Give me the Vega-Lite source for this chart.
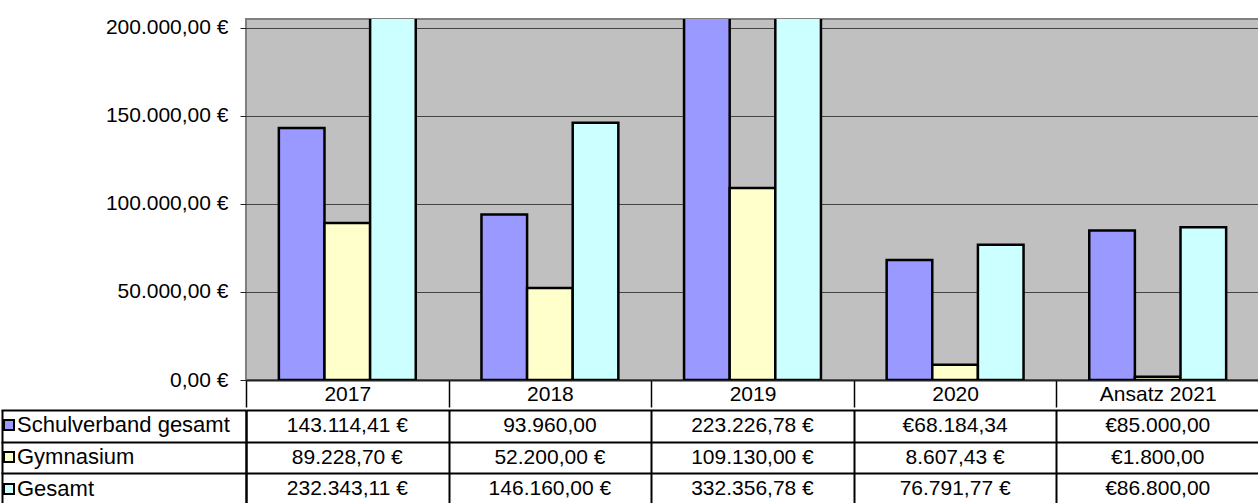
{
  "$schema": "https://vega.github.io/schema/vega-lite/v6.json",
  "padding": {"left": 0, "top": 15, "right": 0, "bottom": 0},
  "spacing": 0,
  "config": {
    "locale": {"number": {"decimal": ",", "thousands": ".", "grouping": [3], "currency": ["", " €"]}},
    "font": "Liberation Sans",
    "view": {"stroke": null},
    "axis": {"labelFont": "Liberation Sans", "labelFontSize": 21, "labelColor": "black"},
    "legend": {"labelFont": "Liberation Sans", "labelFontSize": 22, "labelColor": "black"}
  },
  "data": {"values": [
    {"year": "2017", "series": "Schulverband gesamt", "value": 143114.41, "label": "143.114,41 €"},
    {"year": "2017", "series": "Gymnasium", "value": 89228.70, "label": "89.228,70 €"},
    {"year": "2017", "series": "Gesamt", "value": 232343.11, "label": "232.343,11 €"},
    {"year": "2018", "series": "Schulverband gesamt", "value": 93960.00, "label": "93.960,00"},
    {"year": "2018", "series": "Gymnasium", "value": 52200.00, "label": "52.200,00 €"},
    {"year": "2018", "series": "Gesamt", "value": 146160.00, "label": "146.160,00 €"},
    {"year": "2019", "series": "Schulverband gesamt", "value": 223226.78, "label": "223.226,78 €"},
    {"year": "2019", "series": "Gymnasium", "value": 109130.00, "label": "109.130,00 €"},
    {"year": "2019", "series": "Gesamt", "value": 332356.78, "label": "332.356,78 €"},
    {"year": "2020", "series": "Schulverband gesamt", "value": 68184.34, "label": "€68.184,34"},
    {"year": "2020", "series": "Gymnasium", "value": 8607.43, "label": "8.607,43 €"},
    {"year": "2020", "series": "Gesamt", "value": 76791.77, "label": "76.791,77 €"},
    {"year": "Ansatz 2021", "series": "Schulverband gesamt", "value": 85000.00, "label": "€85.000,00"},
    {"year": "Ansatz 2021", "series": "Gymnasium", "value": 1800.00, "label": "€1.800,00"},
    {"year": "Ansatz 2021", "series": "Gesamt", "value": 86800.00, "label": "€86.800,00"}
  ]},
  "vconcat": [
    {
      "width": 1013,
      "height": 361,
      "view": {"fill": "#C0C0C0", "stroke": "#808080", "strokeWidth": 2},
      "mark": {"type": "bar", "stroke": "black", "strokeWidth": 2.5, "clip": true},
      "encoding": {
        "x": {
          "field": "year", "type": "nominal",
          "sort": ["2017", "2018", "2019", "2020", "Ansatz 2021"],
          "scale": {"paddingInner": 0, "paddingOuter": 0},
          "axis": {"title": null, "labelAngle": 0, "tickBand": "extent", "tickSize": 27, "tickColor": "black", "tickWidth": 1.5, "labelPadding": -24, "labelBaseline": "top", "domainColor": "#222222", "domainWidth": 2}
        },
        "xOffset": {
          "field": "series", "type": "nominal",
          "sort": ["Schulverband gesamt", "Gymnasium", "Gesamt"],
          "scale": {"paddingInner": 0, "paddingOuter": 0.72}
        },
        "y": {
          "field": "value", "type": "quantitative",
          "scale": {"domain": [0, 205100], "nice": false, "zero": true},
          "axis": {"title": null, "values": [0, 50000, 100000, 150000, 200000], "format": "$,.2f", "tickSize": 6, "tickColor": "#222222", "labelPadding": 12, "grid": true, "gridColor": "#444444", "gridWidth": 1, "domain": false}
        },
        "color": {
          "field": "series", "type": "nominal",
          "sort": ["Schulverband gesamt", "Gymnasium", "Gesamt"],
          "scale": {"domain": ["Schulverband gesamt", "Gymnasium", "Gesamt"], "range": ["#9999FF", "#FFFFCC", "#CCFFFF"]},
          "legend": {"orient": "none", "legendX": -244, "legendY": 395, "padding": 0, "title": null, "symbolType": "square", "symbolSize": 100, "symbolStrokeColor": "black", "symbolStrokeWidth": 2, "symbolOpacity": 1, "symbolOffset": -4, "labelOffset": -3, "rowPadding": 10, "labelLimit": 400}
        }
      }
    },
    {
      "width": 1013,
      "height": 95,
      "resolve": {"scale": {"y": "independent"}},
      "layer": [
        {
          "mark": {"type": "text", "fontSize": 21, "font": "Liberation Sans", "color": "black"},
          "encoding": {
            "x": {
              "field": "year", "type": "nominal",
              "sort": ["2017", "2018", "2019", "2020", "Ansatz 2021"],
              "scale": {"paddingInner": 0, "paddingOuter": 0},
              "axis": {"title": null, "labels": false, "ticks": false, "domain": false, "grid": true, "tickBand": "extent", "gridColor": "black", "gridWidth": 2, "gridOpacity": 1}
            },
            "y": {
              "field": "series", "type": "nominal",
              "sort": ["Schulverband gesamt", "Gymnasium", "Gesamt"],
              "scale": {"paddingInner": 0, "paddingOuter": 0},
              "axis": {"title": null, "labels": false, "grid": true, "tickBand": "extent", "gridColor": "black", "gridWidth": 2, "gridOpacity": 1, "tickSize": 245, "tickColor": "black", "tickWidth": 2, "domain": true, "domainColor": "black", "domainWidth": 2}
            },
            "text": {"field": "label"}
          }
        },
        {
          "mark": {"type": "text", "opacity": 0},
          "encoding": {
            "x": {"field": "year", "type": "nominal", "sort": ["2017", "2018", "2019", "2020", "Ansatz 2021"]},
            "y": {
              "field": "series", "type": "nominal",
              "sort": ["Schulverband gesamt", "Gymnasium", "Gesamt"],
              "scale": {"paddingInner": 0, "paddingOuter": 0},
              "axis": {"orient": "left", "offset": 244, "title": null, "labels": false, "ticks": false, "grid": false, "domain": true, "domainColor": "black", "domainWidth": 2}
            },
            "text": {"field": "label"}
          }
        }
      ]
    }
  ]
}
